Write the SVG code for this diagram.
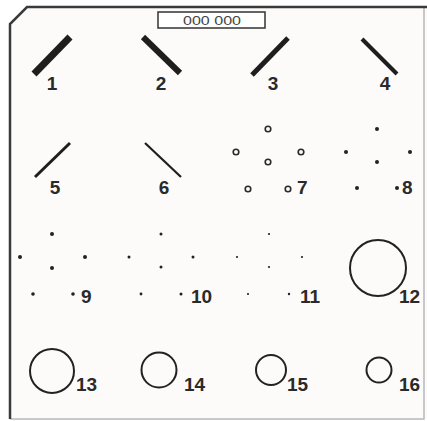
<svg xmlns="http://www.w3.org/2000/svg" width="427" height="421" viewBox="0 0 427 421">
<style>
.lbl{font-family:"Liberation Sans",Arial,sans-serif;font-weight:bold;font-size:19px;fill:#2a2a2a}
.bar{stroke:#1e1e1e;stroke-linecap:butt}
.oc{fill:none;stroke:#2a2a2a;stroke-width:1.6}
.big{fill:none;stroke:#222;stroke-width:2}
.fd{fill:#222}
</style>
<rect width="427" height="421" fill="#ffffff"/>
<g id="frame">
<path d="M27,7 L427,7 L427,419 L10,419 L10,24 Z" fill="#fdfbf9" stroke="none"/>
<path d="M424,7 L424,419 L10,419" fill="none" stroke="#b8b8b8" stroke-width="1.5"/>
<path d="M10,419 L10,24 L27,7 L427,7" fill="none" stroke="#3a3a3a" stroke-width="2.5"/>
</g>
<g id="counter">
<rect x="158" y="12" width="107" height="16" fill="#ffffff" stroke="#333" stroke-width="1.5"/>
<text x="183" y="25" textLength="58" lengthAdjust="spacingAndGlyphs" font-family="'Liberation Sans',Arial,sans-serif" font-size="12" fill="#444">000 000</text>
</g>
<g id="n1"><line class="bar" x1="34" y1="74" x2="70" y2="37" stroke-width="7"/><text class="lbl" x="52" y="90" text-anchor="middle">1</text></g>
<g id="n2"><line class="bar" x1="143" y1="37" x2="180" y2="73" stroke-width="6"/><text class="lbl" x="161" y="90" text-anchor="middle">2</text></g>
<g id="n3"><line class="bar" x1="252" y1="75" x2="288" y2="38" stroke-width="5"/><text class="lbl" x="273" y="90" text-anchor="middle">3</text></g>
<g id="n4"><line class="bar" x1="362" y1="39" x2="397" y2="74" stroke-width="4"/><text class="lbl" x="385" y="90" text-anchor="middle">4</text></g>
<g id="n5"><line class="bar" x1="35" y1="177" x2="70" y2="143" stroke-width="3"/><text class="lbl" x="55" y="194" text-anchor="middle">5</text></g>
<g id="n6"><line class="bar" x1="145" y1="143" x2="181" y2="177" stroke-width="2.2"/><text class="lbl" x="164" y="194" text-anchor="middle">6</text></g>
<g id="n7">
<circle class="oc" cx="268" cy="129" r="2.8"/><circle class="oc" cx="236" cy="152" r="2.8"/><circle class="oc" cx="301" cy="152" r="2.8"/><circle class="oc" cx="268" cy="162" r="2.8"/><circle class="oc" cx="248" cy="189" r="2.8"/><circle class="oc" cx="288" cy="189" r="2.8"/>
<text class="lbl" x="297" y="194">7</text></g>
<g id="n8">
<circle class="fd" cx="377" cy="129" r="2"/><circle class="fd" cx="346" cy="152" r="2"/><circle class="fd" cx="410" cy="152" r="2"/><circle class="fd" cx="377" cy="162" r="2"/><circle class="fd" cx="357" cy="188" r="2"/><circle class="fd" cx="397" cy="188" r="2"/>
<text class="lbl" x="402" y="194">8</text></g>
<g id="n9">
<circle class="fd" cx="52" cy="234" r="2"/><circle class="fd" cx="20" cy="257" r="2"/><circle class="fd" cx="85" cy="257" r="2"/><circle class="fd" cx="52" cy="268" r="2"/><circle class="fd" cx="33" cy="294" r="1.8"/><circle class="fd" cx="73" cy="294" r="1.8"/>
<text class="lbl" x="81" y="303">9</text></g>
<g id="n10">
<circle class="fd" cx="161" cy="234" r="1.5"/><circle class="fd" cx="129" cy="257" r="1.5"/><circle class="fd" cx="193" cy="257" r="1.5"/><circle class="fd" cx="161" cy="267" r="1.5"/><circle class="fd" cx="141" cy="294" r="1.4"/><circle class="fd" cx="181" cy="294" r="1.5"/>
<text class="lbl" x="191" y="303">10</text></g>
<g id="n11">
<circle class="fd" cx="269" cy="234" r="1.1"/><circle class="fd" cx="237" cy="257" r="1.1"/><circle class="fd" cx="302" cy="257" r="1.1"/><circle class="fd" cx="269" cy="267" r="1.1"/><circle class="fd" cx="248" cy="294" r="1.1"/><circle class="fd" cx="289" cy="294" r="1.2"/>
<text class="lbl" x="300" y="303">11</text></g>
<g id="n12"><circle class="big" cx="378" cy="268" r="28"/><text class="lbl" x="399" y="303">12</text></g>
<g id="n13"><circle class="big" cx="52" cy="371" r="22"/><text class="lbl" x="76" y="391">13</text></g>
<g id="n14"><circle class="big" cx="159" cy="370" r="17.5"/><text class="lbl" x="184" y="391">14</text></g>
<g id="n15"><circle class="big" cx="271" cy="370" r="15"/><text class="lbl" x="287" y="391">15</text></g>
<g id="n16"><circle class="big" cx="379" cy="370" r="12.5"/><text class="lbl" x="399" y="391">16</text></g>
<g id="connectors"/>
</svg>
